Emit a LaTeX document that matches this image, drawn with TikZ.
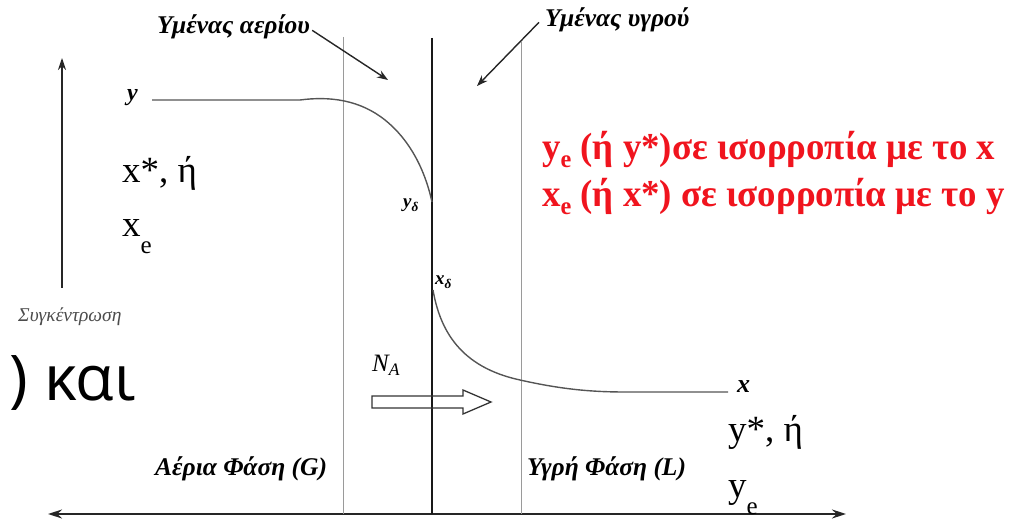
\documentclass[tikz,border=0pt]{standalone}
\usepackage{fontspec}
\setmainfont{Liberation Serif}
\newfontfamily\redfont[FakeStretch=0.97]{Liberation Serif}
\newfontfamily\kaifont{Open Sans}
\usetikzlibrary{arrows.meta}
\definecolor{linegray}{HTML}{9A9A9A}
\definecolor{curvegray}{HTML}{555555}
\definecolor{redtxt}{HTML}{F0141E}
\tikzset{
  lbl/.style={inner sep=0pt, anchor=base west},
  film/.style={draw=linegray, line width=1pt},
  curve/.style={draw=curvegray, line width=1.4pt},
  pointer/.style={draw=black!85, line width=1.4pt, -{Stealth[length=11pt,width=8pt]}},
}
\newcommand{\fs}[1]{\fontsize{#1}{#1}\selectfont}
\newcommand{\lsub}[3]{\raisebox{-#2pt}{\fontsize{#1}{#1}\selectfont #3}}
\begin{document}
\begin{tikzpicture}[x=1pt,y=-1pt]
\useasboundingbox (0,0) rectangle (1010,521);
% bottom axis
\coordinate (axL) at (48,514);
\coordinate (axR) at (846,514);
\draw[line width=1.6pt, black!85, {Stealth[length=14pt,width=9pt]}-{Stealth[length=14pt,width=9pt]}] (axL) -- (axR);
% vertical concentration arrow
\coordinate (vB) at (62,288);
\coordinate (vT) at (62,58);
\draw[line width=1.4pt, black!85, -{Stealth[length=12pt,width=8pt]}] (vB) -- (vT);
% film lines
\coordinate (fL1) at (343,37); \coordinate (fL2) at (343,514);
\coordinate (fR1) at (521,42); \coordinate (fR2) at (521,514);
\coordinate (iT) at (432,38); \coordinate (iB) at (432,514);
\draw[film] (fL1) -- (fL2);
\draw[film] (fR1) -- (fR2);
\draw[line width=2.6pt, black!90] (iT) -- (iB);
% curves
\coordinate (yS) at (152,100);
\coordinate (yD) at (432,202);
\draw[curve] (yS) -- (300,100) .. controls (330,96) and (360,100) .. (385,120) .. controls (410,140) and (425,170) .. (yD);
\coordinate (xD) at (433,290);
\coordinate (xE) at (728,392);
\draw[curve] (xD) .. controls (440,330) and (460,367) .. (520,380) .. controls (560,389) and (590,392) .. (625,392) -- (xE);
% hollow flux arrow
\draw[line width=1.3pt, black!80, line join=miter]
  (372,396) -- (463,396) -- (463,390) -- (491,402) -- (463,414) -- (463,408) -- (372,408) -- cycle;
% labels
\node[lbl] (ga) at (157,34) {\fs{25.5}\bfseries\itshape Υμένας αερίου};
\node[lbl] (la) at (545,27) {\fs{25.5}\bfseries\itshape Υμένας υγρού};
\coordinate (gaT) at (388,80);
\coordinate (laT) at (477,86);
\draw[pointer] (ga.east) ++(2,3) -- (gaT);
\draw[pointer] (la.west) ++(-6,2) -- (laT);
\node[lbl] (ylab) at (127,101) {\fs{24}\bfseries\itshape y};
\node[lbl] (xstar) at (122,183) {\fs{37}x*, ή};
\node[lbl] (xe) at (122,237) {\fs{37}x\lsub{25}{17}{e}};
\node[lbl] (conc) at (18,322) {\fs{19.5}\itshape\color{black!70} Συγκέντρωση};
\node[lbl] (kai) at (9,400) {\fs{63}\kaifont ) και};
\node[lbl] (yd) at (403,208) {\fs{19}\bfseries\itshape y\textsubscript{δ}};
\node[lbl] (xd) at (435,285) {\fs{19}\bfseries\itshape x\textsubscript{δ}};
\node[lbl] (na) at (372,372) {\fs{25}\itshape N\textsubscript{A}};
\node[lbl] (gp) at (155,475) {\fs{25.5}\bfseries\itshape Αέρια Φάση (G)};
\node[lbl] (lp) at (527,475) {\fs{25.5}\bfseries\itshape Υγρή Φάση (L)};
\node[lbl] (xlab) at (737,393) {\fs{26}\bfseries\itshape x};
\node[lbl] (ystar) at (728,442) {\fs{37}y*, ή};
\node[lbl] (ye) at (728,497) {\fs{37}y\lsub{25}{17}{e}};
\node[lbl, text=redtxt] (r1) at (542,160) {\fs{38}\redfont\bfseries y\lsub{25}{8}{e} (ή y*)σε ισορροπία με το x};
\node[lbl, text=redtxt] (r2) at (542,207) {\fs{38}\redfont\bfseries x\lsub{25}{8}{e} (ή x*) σε ισορροπία με το y};
\end{tikzpicture}
\end{document}
